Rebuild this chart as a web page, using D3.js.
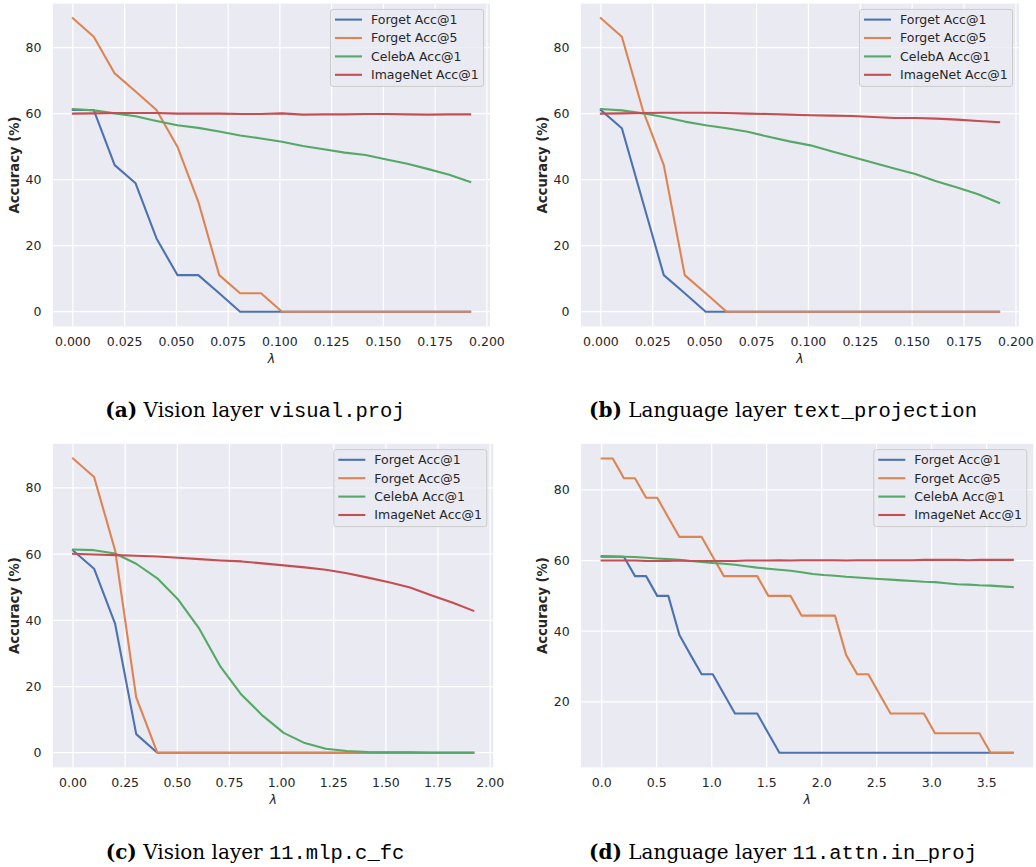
<!DOCTYPE html>
<html>
<head>
<meta charset="utf-8">
<script src="https://cdn.jsdelivr.net/npm/d3@7"></script>
<style>
  html, body { margin: 0; padding: 0; background: #ffffff; }
  svg { display: block; }
</style>
</head>
<body>
<svg id="fig" width="1036" height="867"></svg>
<script>
// λ values swept for each layer
const lambdaVisualProj = [0, 0.0101, 0.0202, 0.0303, 0.0404, 0.0505, 0.0606, 0.0707, 0.0808, 0.0909,
  0.1010, 0.1111, 0.1212, 0.1313, 0.1414, 0.1515, 0.1616, 0.1717, 0.1818, 0.1919];
const lambdaTextProj = [0, 0.0101, 0.0202, 0.0303, 0.0404, 0.0505, 0.0606, 0.0707, 0.0808, 0.0909,
  0.1010, 0.1111, 0.1212, 0.1313, 0.1414, 0.1515, 0.1616, 0.1717, 0.1818, 0.1919];
const lambdaMlpFc = [0, 0.101, 0.202, 0.303, 0.404, 0.505, 0.606, 0.707, 0.808, 0.909,
  1.010, 1.111, 1.212, 1.313, 1.414, 1.515, 1.616, 1.717, 1.818, 1.919];
const lambdaAttnIn = [0, 0.101, 0.202, 0.303, 0.404, 0.505, 0.606, 0.707, 0.808, 0.909,
  1.010, 1.111, 1.212, 1.313, 1.414, 1.515, 1.616, 1.717, 1.818, 1.919,
  2.020, 2.121, 2.222, 2.323, 2.424, 2.525, 2.626, 2.727, 2.828, 2.929,
  3.030, 3.131, 3.232, 3.333, 3.434, 3.535, 3.636, 3.737];

const seriesNames = ["Forget Acc@1", "Forget Acc@5", "CelebA Acc@1", "ImageNet Acc@1"];

// (a) visual.proj
const visualForget1 = [61.1, 61.1, 44.4, 38.9, 22.2, 11.1, 11.1, 5.6, 0, 0, 0, 0, 0, 0, 0, 0, 0, 0, 0, 0];
const visualForget5 = [88.9, 83.3, 72.2, 66.7, 61.1, 50.0, 33.3, 11.1, 5.6, 5.6, 0, 0, 0, 0, 0, 0, 0, 0, 0, 0];
const visualCelebA = [61.4, 61.0, 60.1, 59.2, 57.8, 56.5, 55.7, 54.6, 53.4, 52.5, 51.5, 50.2, 49.2, 48.2, 47.5, 46.1, 44.8, 43.2, 41.5, 39.3];
const visualImageNet = [60.0, 60.1, 60.2, 60.2, 60.2, 60.0, 60.0, 60.0, 59.9, 59.9, 60.1, 59.7, 59.8, 59.8, 59.9, 59.9, 59.8, 59.7, 59.8, 59.8];

// (b) text_projection
const textForget1 = [61.1, 55.6, 33.3, 11.1, 5.6, 0, 0, 0, 0, 0, 0, 0, 0, 0, 0, 0, 0, 0, 0, 0];
const textForget5 = [88.9, 83.3, 61.1, 44.4, 11.1, 5.6, 0, 0, 0, 0, 0, 0, 0, 0, 0, 0, 0, 0, 0, 0];
const textCelebA = [61.4, 61.0, 60.1, 59.0, 57.6, 56.5, 55.6, 54.5, 53.0, 51.6, 50.4, 48.6, 46.9, 45.1, 43.4, 41.7, 39.5, 37.6, 35.6, 33.0];
const textImageNet = [60.0, 60.1, 60.2, 60.3, 60.3, 60.3, 60.2, 60.0, 59.9, 59.7, 59.5, 59.4, 59.3, 59.0, 58.7, 58.7, 58.5, 58.2, 57.8, 57.4];

// (c) 11.mlp.c_fc
const mlpForget1 = [61.1, 55.6, 38.9, 5.6, 0, 0, 0, 0, 0, 0, 0, 0, 0, 0, 0, 0, 0, 0, 0, 0];
const mlpForget5 = [88.9, 83.3, 61.1, 16.7, 0, 0, 0, 0, 0, 0, 0, 0, 0, 0, 0, 0, 0, 0, 0, 0];
const mlpCelebA = [61.4, 61.2, 60.2, 57.1, 52.7, 46.2, 37.4, 26.0, 17.5, 11.2, 6.0, 2.9, 1.2, 0.5, 0.2, 0.1, 0.1, 0.0, 0.0, 0.0];
const mlpImageNet = [60.1, 59.9, 59.7, 59.5, 59.3, 58.9, 58.5, 58.1, 57.8, 57.2, 56.6, 56.0, 55.3, 54.2, 52.9, 51.5, 49.9, 47.6, 45.4, 42.9];

// (d) 11.attn.in_proj
const attnForget1 = [61.1, 61.1, 61.1, 55.6, 55.6, 50.0, 50.0, 38.9, 33.3, 27.8, 27.8, 22.2, 16.7, 16.7, 16.7, 11.1, 5.6,
  5.6, 5.6, 5.6, 5.6, 5.6, 5.6, 5.6, 5.6, 5.6, 5.6, 5.6, 5.6, 5.6, 5.6, 5.6, 5.6, 5.6, 5.6, 5.6, 5.6, 5.6];
const attnForget5 = [88.9, 88.9, 83.3, 83.3, 77.8, 77.8, 72.2, 66.7, 66.7, 66.7, 61.1, 55.6, 55.6, 55.6, 55.6, 50.0, 50.0, 50.0,
  44.4, 44.4, 44.4, 44.4, 33.3, 27.8, 27.8, 22.2, 16.7, 16.7, 16.7, 16.7, 11.1, 11.1, 11.1, 11.1, 11.1, 5.6, 5.6, 5.6];
const attnCelebA = [61.3, 61.2, 61.1, 61.0, 60.8, 60.6, 60.4, 60.2, 59.9, 59.6, 59.3, 59.1, 58.8, 58.4, 58.0, 57.7, 57.4, 57.1, 56.7, 56.2,
  55.9, 55.7, 55.4, 55.2, 55.0, 54.8, 54.6, 54.4, 54.2, 54.0, 53.9, 53.6, 53.3, 53.2, 53.0, 52.9, 52.7, 52.5];
const attnImageNet = [60.0, 60.0, 60.0, 60.0, 59.9, 59.9, 59.9, 60.0, 59.9, 59.9, 59.9, 59.9, 59.9, 60.0, 60.0, 60.0, 60.1, 60.0, 60.1, 60.1,
  60.1, 60.1, 60.0, 60.1, 60.1, 60.1, 60.1, 60.1, 60.1, 60.2, 60.2, 60.2, 60.2, 60.1, 60.2, 60.2, 60.2, 60.2];

// tick values
const xTicksSmall = [0, 0.025, 0.05, 0.075, 0.1, 0.125, 0.15, 0.175, 0.2];
const xTicksMlp = [0, 0.25, 0.5, 0.75, 1.0, 1.25, 1.5, 1.75, 2.0];
const xTicksAttn = [0, 0.5, 1.0, 1.5, 2.0, 2.5, 3.0, 3.5];
const yTicksFull = [0, 20, 40, 60, 80];
const yTicksAttn = [20, 40, 60, 80];

const captionTags = ["(a)", "(b)", "(c)", "(d)"];
const captionTexts = ["Vision layer", "Language layer", "Vision layer", "Language layer"];
const captionLayers = ["visual.proj", "text_projection", "11.mlp.c_fc", "11.attn.in_proj"];

// seaborn "deep" palette
const colors = ["#4C72B0", "#DD8452", "#55A868", "#C44E52"];

const panels = [
  { lam: lambdaVisualProj, series: [visualForget1, visualForget5, visualCelebA, visualImageNet],
    xTicks: xTicksSmall, xFmt: d3.format(".3f"), yTicks: yTicksFull,
    box: { left: 53, right: 490, top: 3.6, bottom: 326.4 }, caption: { cx: 255, y: 417 } },
  { lam: lambdaTextProj, series: [textForget1, textForget5, textCelebA, textImageNet],
    xTicks: xTicksSmall, xFmt: d3.format(".3f"), yTicks: yTicksFull,
    box: { left: 581, right: 1019, top: 3.6, bottom: 326.4 }, caption: { cx: 783, y: 417 } },
  { lam: lambdaMlpFc, series: [mlpForget1, mlpForget5, mlpCelebA, mlpImageNet],
    xTicks: xTicksMlp, xFmt: d3.format(".2f"), yTicks: yTicksFull,
    box: { left: 53, right: 493.3, top: 443.8, bottom: 767.4 }, caption: { cx: 255, y: 859 } },
  { lam: lambdaAttnIn, series: [attnForget1, attnForget5, attnCelebA, attnImageNet],
    xTicks: xTicksAttn, xFmt: d3.format(".1f"), yTicks: yTicksAttn,
    box: { left: 581.1, right: 1033.3, top: 443.8, bottom: 767.4 }, caption: { cx: 783, y: 859 } }
];

const svg = d3.select("#fig");
const tickColor = "#262626";
const fs = 12.5;

// padded extent, 5% on each side
function padded(values) {
  const [lo, hi] = d3.extent(values);
  const m = (hi - lo) * 0.05;
  return [lo - m, hi + m];
}

panels.forEach((p, pi) => {
  const b = p.box;
  const x = d3.scaleLinear().domain(padded(p.lam)).range([b.left, b.right]);
  const allY = p.series.flat();
  const y = d3.scaleLinear().domain(padded(allY)).range([b.bottom, b.top]);

  const g = svg.append("g");
  const clipId = "clip" + pi;
  svg.append("clipPath").attr("id", clipId)
    .append("rect").attr("x", b.left).attr("y", b.top)
    .attr("width", b.right - b.left).attr("height", b.bottom - b.top);

  // axes background
  g.append("rect").attr("x", b.left).attr("y", b.top)
    .attr("width", b.right - b.left).attr("height", b.bottom - b.top)
    .attr("fill", "#EAEAF2");

  // grid
  const grid = g.append("g").attr("clip-path", `url(#${clipId})`);
  grid.selectAll(".gx").data(p.xTicks).join("line")
    .attr("x1", d => x(d)).attr("x2", d => x(d))
    .attr("y1", b.top).attr("y2", b.bottom)
    .attr("stroke", "#ffffff").attr("stroke-width", 1.25);
  grid.selectAll(".gy").data(p.yTicks).join("line")
    .attr("x1", b.left).attr("x2", b.right)
    .attr("y1", d => y(d)).attr("y2", d => y(d))
    .attr("stroke", "#ffffff").attr("stroke-width", 1.25);

  // tick labels
  g.selectAll(".tx").data(p.xTicks).join("text")
    .attr("x", d => x(d)).attr("y", b.bottom + 20)
    .attr("text-anchor", "middle")
    .attr("font-family", "DejaVu Sans").attr("font-size", fs)
    .attr("fill", tickColor)
    .text(d => p.xFmt(d));
  g.selectAll(".ty").data(p.yTicks).join("text")
    .attr("x", b.left - 11.5).attr("y", d => y(d) + 4.5)
    .attr("text-anchor", "end")
    .attr("font-family", "DejaVu Sans").attr("font-size", fs)
    .attr("fill", tickColor)
    .text(d => d3.format("d")(d));

  // axis labels
  g.append("text")
    .attr("transform", `translate(${b.left - 34.5},${(b.top + b.bottom) / 2}) rotate(-90)`)
    .attr("text-anchor", "middle")
    .attr("font-family", "DejaVu Sans").attr("font-weight", "bold").attr("font-size", 13.2)
    .attr("fill", tickColor)
    .text("Accuracy (%)");
  g.append("text")
    .attr("x", (b.left + b.right) / 2).attr("y", b.bottom + 36.5)
    .attr("text-anchor", "middle")
    .attr("font-family", "DejaVu Sans").attr("font-style", "italic").attr("font-size", fs)
    .attr("fill", tickColor)
    .text("λ");

  // lines
  const line = d3.line().x(d => x(d[0])).y(d => y(d[1]));
  const lines = g.append("g").attr("clip-path", `url(#${clipId})`);
  p.series.forEach((s, si) => {
    lines.append("path")
      .datum(p.lam.map((l, i) => [l, s[i]]))
      .attr("d", line)
      .attr("fill", "none")
      .attr("stroke", colors[si])
      .attr("stroke-width", 2.1)
      .attr("stroke-linejoin", "round")
      .attr("stroke-linecap", "square");
  });

  // legend, upper right
  const lw = 153, lh = 77;
  const lx = b.right - 6.5 - lw, ly = b.top + 5.8;
  const leg = g.append("g").attr("transform", `translate(${lx},${ly})`);
  leg.append("rect").attr("width", lw).attr("height", lh)
    .attr("rx", 2.5).attr("ry", 2.5)
    .attr("fill", "#EAEAF2").attr("fill-opacity", 0.8)
    .attr("stroke", "#cccccc").attr("stroke-width", 1);
  seriesNames.forEach((name, si) => {
    const cy = 10.2 + si * 18.4;
    leg.append("line").attr("x1", 4.5).attr("x2", 31.5).attr("y1", cy).attr("y2", cy)
      .attr("stroke", colors[si]).attr("stroke-width", 2.1);
    leg.append("text").attr("x", 40.5).attr("y", cy + 4.5)
      .attr("font-family", "DejaVu Sans").attr("font-size", fs)
      .attr("fill", tickColor).text(name);
  });

  // sub-caption
  const cap = svg.append("text")
    .attr("x", p.caption.cx).attr("y", p.caption.y)
    .attr("text-anchor", "middle")
    .attr("fill", "#000000")
    .attr("font-family", "DejaVu Serif").attr("font-size", 20);
  cap.append("tspan").attr("font-weight", "bold").text(captionTags[pi]);
  cap.append("tspan").text(" " + captionTexts[pi] + " ");
  cap.append("tspan").attr("font-family", "Liberation Mono").attr("font-size", 20.5).text(captionLayers[pi]);
});
</script>
</body>
</html>
